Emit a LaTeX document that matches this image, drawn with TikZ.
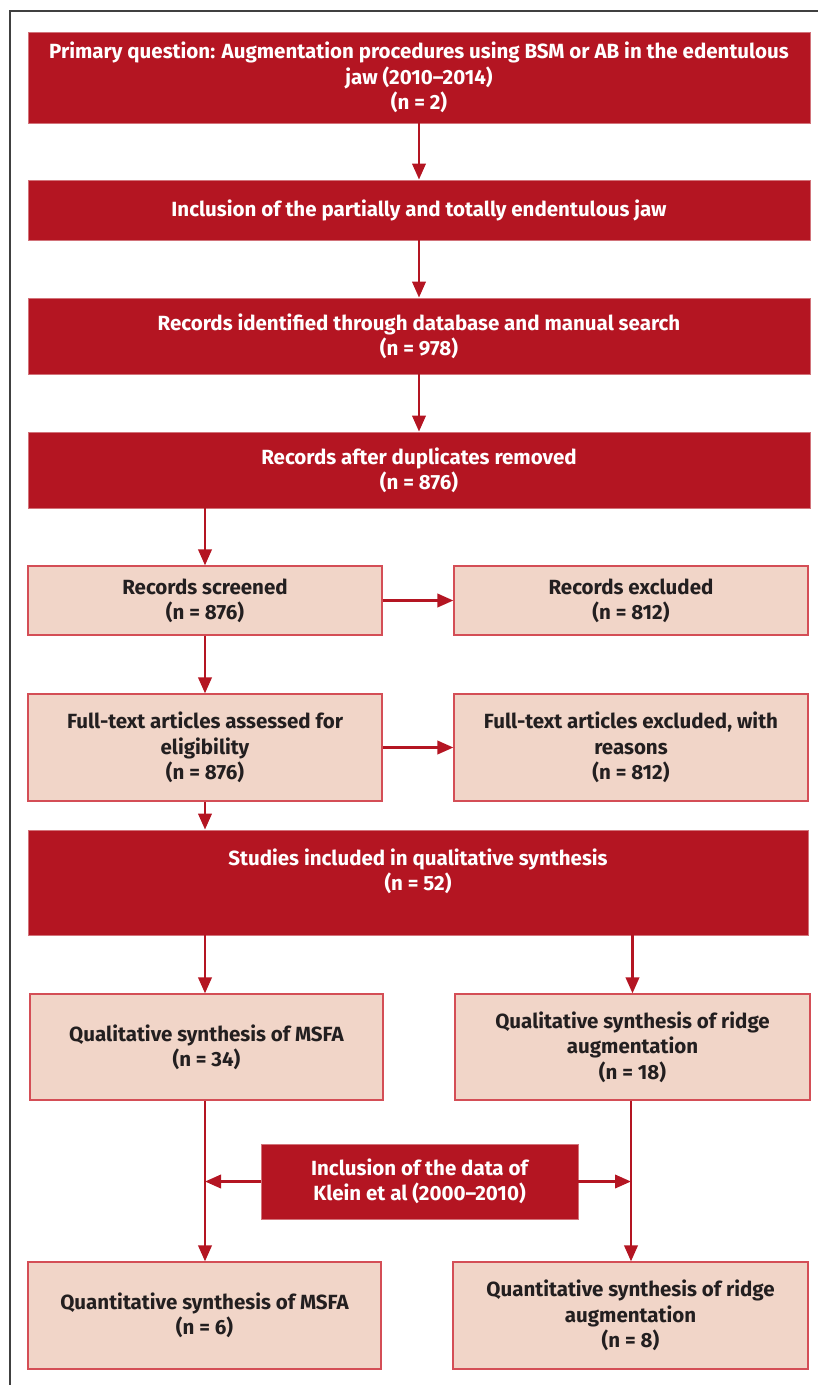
\documentclass[tikz,border=0pt]{standalone}
\usepackage{fontspec}
\setmainfont{Fira Sans}
\usetikzlibrary{arrows.meta}
\definecolor{flowred}{RGB}{180,21,34}
\definecolor{flowpink}{RGB}{241,213,200}
\definecolor{flowedge}{RGB}{212,78,86}
\definecolor{flowtext}{RGB}{35,31,32}
\tikzset{
  darkbox/.style={fill=flowred, draw=flowred!60!white, line width=0.6pt, text=white, font=\fontsize{15.4}{19}\selectfont\bfseries, align=center, inner sep=0pt},
  lightbox/.style={fill=flowpink, draw=flowedge, line width=0.9pt, text=flowtext, font=\fontsize{15.4}{19}\selectfont\bfseries, align=center, inner sep=0pt},
  flowarrow/.style={draw=flowred, line width=2pt, -{Triangle[length=12pt,width=10pt]}}
}
\begin{document}
\begin{tikzpicture}[x=0.75pt,y=0.75pt,yscale=-1,xscale=1]
\useasboundingbox (0,0) rectangle (818,1385);

%Frame
\draw [color=black!75, line width=1pt] (10,1385) -- (10,11) -- (818,11) ;

%Shape: Primary question
\node [darkbox, minimum width=586.5pt, minimum height=68.25pt] (prim) at (419,77.5) {Primary question: Augmentation procedures using BSM or AB in the edentulous\\jaw (2010--2014)\\(n = 2)};
%Shape: Inclusion
\node [darkbox, minimum width=586.5pt, minimum height=45pt] (incl) at (419,210) {Inclusion of the partially and totally endentulous jaw};
%Shape: Records identified
\node [darkbox, minimum width=586.5pt, minimum height=57pt] (ident) at (419,336) {Records identified through database and manual search\\(n = 978)};
%Shape: Records after duplicates
\node [darkbox, minimum width=586.5pt, minimum height=57pt] (dup) at (419,470) {Records after duplicates removed\\(n = 876)};

%Shape: Records screened
\node [lightbox, minimum width=265.5pt, minimum height=51.75pt] (screen) at (205,600.5) {Records screened\\(n = 876)};
%Shape: Records excluded
\node [lightbox, minimum width=265.5pt, minimum height=51.75pt] (excl) at (631,600.5) {Records excluded\\(n = 812)};
%Shape: Full-text assessed
\node [lightbox, minimum width=265.5pt, minimum height=80.25pt] (full) at (205,747.5) {Full-text articles assessed for\\eligibility\\(n = 876)};
%Shape: Full-text excluded
\node [lightbox, minimum width=265.5pt, minimum height=80.25pt] (fullexcl) at (631,747.5) {Full-text articles excluded, with\\reasons\\(n = 812)};

%Shape: Studies included
\node [darkbox, minimum width=585pt, minimum height=78.75pt] (qual) at (418,882.5) {};
\node [text=white, font=\fontsize{15.4}{19}\selectfont\bfseries, align=center, inner sep=0pt] (qualtxt) at (418,871) {Studies included in qualitative synthesis\\(n = 52)};

%Shape: Qualitative MSFA
\node [lightbox, minimum width=264.75pt, minimum height=79.5pt] (qlmsfa) at (206.5,1047) {Qualitative synthesis of MSFA\\(n = 34)};
%Shape: Qualitative ridge
\node [lightbox, minimum width=266.25pt, minimum height=79.5pt] (qlridge) at (632.5,1047) {Qualitative synthesis of ridge\\augmentation\\(n = 18)};

%Shape: Klein data
\node [darkbox, minimum width=237.75pt, minimum height=56.25pt] (klein) at (419.5,1181.5) {Inclusion of the data of\\Klein et al (2000--2010)};

%Shape: Quantitative MSFA
\node [lightbox, minimum width=264.75pt, minimum height=80.25pt] (qnmsfa) at (204.5,1315.5) {Quantitative synthesis of MSFA\\(n = 6)};
%Shape: Quantitative ridge
\node [lightbox, minimum width=266.25pt, minimum height=80.25pt] (qnridge) at (630.5,1315.5) {Quantitative synthesis of ridge\\augmentation\\(n = 8)};

%Arrows: main column
\draw [flowarrow] (prim.south) -- (incl.north) ;
\draw [flowarrow] (incl.south) -- (ident.north) ;
\draw [flowarrow] (ident.south) -- (dup.north) ;
\draw [flowarrow] (dup.south -| screen.north) -- (screen.north) ;
\draw [flowarrow] (screen.south) -- (full.north) ;
\draw [flowarrow] (full.south) -- (full.south |- qual.north) ;
%Arrows: exclusions
\draw [flowarrow] (screen.east) -- (excl.west) ;
\draw [flowarrow] (full.east) -- (fullexcl.west) ;
%Arrows: synthesis
\draw [flowarrow] (qual.south -| full.south) -- (qlmsfa.north -| full.south) ;
\draw [flowarrow] (qual.south -| qlridge.north) -- (qlridge.north) ;
\draw [flowarrow] (qlmsfa.south -| full.south) -- (qnmsfa.north -| full.south) ;
\draw [flowarrow] (qlridge.south -| excl.north) -- (qnridge.north -| excl.north) ;
%Arrows: Klein data
\draw [flowarrow] (klein.west) -- (klein.west -| full.south) ;
\draw [flowarrow] (klein.east) -- (klein.east -| excl.north) ;

\end{tikzpicture}
\end{document}
